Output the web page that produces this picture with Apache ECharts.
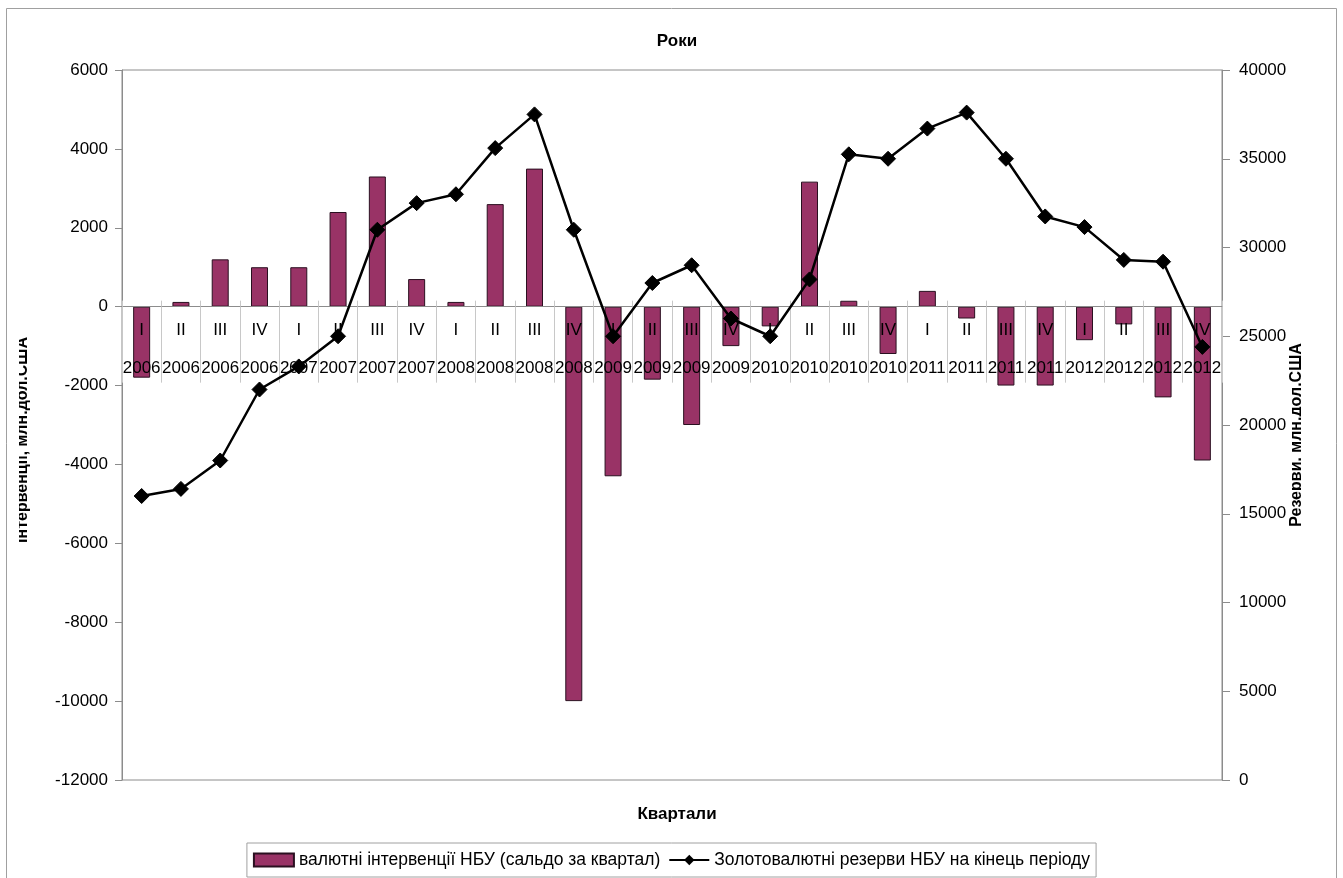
<!DOCTYPE html>
<html>
<head>
<meta charset="utf-8">
<script src="https://cdn.jsdelivr.net/npm/echarts@6/dist/echarts.min.js"></script>
<style>
  html, body { margin: 0; padding: 0; background: #fff; }
  #chart { width: 1343px; height: 878px; }
</style>
</head>
<body>
<div id="chart"></div>
<script>
// Quarter and year of each period
const quarters = ['I','II','III','IV','I','II','III','IV','I','II','III','IV','I','II','III','IV',
                  'I','II','III','IV','I','II','III','IV','I','II','III','IV'];
const years = ['2006','2006','2006','2006','2007','2007','2007','2007','2008','2008','2008','2008',
               '2009','2009','2009','2009','2010','2010','2010','2010','2011','2011','2011','2011',
               '2012','2012','2012','2012'];

// NBU currency interventions, net balance per quarter (mln USD)
const interventions = [-1800, 120, 1200, 1000, 1000, 2400, 3300, 700, 120, 2600, 3500, -10000,
                       -4300, -1850, -3000, -1000, -500, 3170, 150, -1200, 400, -300, -2000, -2000,
                       -850, -450, -2300, -3900];

// NBU gold and foreign currency reserves at period end (mln USD)
const reserves = [16000, 16400, 18000, 22000, 23300, 25000, 31000, 32500, 33000, 35600, 37500, 31000,
                  25000, 28000, 29000, 26000, 25000, 28200, 35250, 35000, 36700, 37600, 35000, 31750,
                  31150, 29300, 29200, 24400];

// Left and right axis tick settings
const leftTicks = { min: -12000, max: 6000, interval: 2000 };
const rightTicks = { min: 0, max: 40000, interval: 5000 };

const categories = quarters.map((q, i) => q + '\n' + years[i]);

const FONT = 'Liberation Sans, Arial, sans-serif';
const GRID_TOP = 70, GRID_BOTTOM_Y = 780;
// the category axis sits on the zero line of the left axis
const zeroY = GRID_TOP + (leftTicks.max / (leftTicks.max - leftTicks.min)) * (GRID_BOTTOM_Y - GRID_TOP);
const axisOffset = zeroY - GRID_BOTTOM_Y;

const chart = echarts.init(document.getElementById('chart'), null, { renderer: 'canvas' });

chart.setOption({
  animation: false,
  backgroundColor: '#ffffff',
  textStyle: { fontFamily: FONT, color: '#000' },
  title: [
    { text: 'Роки', left: 672, top: 28, textAlign: 'center',
      textStyle: { fontFamily: FONT, fontSize: 17, fontWeight: 'bold', color: '#000' } },
    { text: 'Квартали', left: 672, top: 801, textAlign: 'center',
      textStyle: { fontFamily: FONT, fontSize: 17, fontWeight: 'bold', color: '#000' } }
  ],
  grid: {
    left: 122, right: 121, top: GRID_TOP, bottom: 878 - GRID_BOTTOM_Y,
    show: true, borderColor: '#8c8c8c', borderWidth: 1, backgroundColor: 'transparent'
  },
  legend: {
    left: 'center', top: 843,
    padding: [8, 6, 8, 6],
    borderColor: '#a0a0a0', borderWidth: 1,
    itemWidth: 40, itemHeight: 13, itemGap: 8,
    textStyle: { fontFamily: FONT, fontSize: 17.5, color: '#000' },
    data: [
      { name: 'валютні інтервенції НБУ (сальдо за квартал)', icon: 'rect' },
      { name: 'Золотовалютні резерви НБУ на кінець періоду' }
    ]
  },
  xAxis: [
    {
      type: 'category',
      data: categories,
      boundaryGap: true,
      position: 'bottom',
      offset: axisOffset,
      z: 3,
      axisLine: { show: true, onZero: false, lineStyle: { color: '#8c8c8c', width: 1 } },
      axisTick: { show: true, interval: 0, length: 76, inside: false, lineStyle: { color: '#c8c8c8', width: 1 } },
      axisLabel: {
        interval: 0, margin: 6, hideOverlap: false,
        formatter: function (v) {
          const p = v.split('\n');
          return '{q|' + p[0] + '}\n{y|' + p[1] + '}';
        },
        rich: {
          q: { fontFamily: FONT, fontSize: 17, lineHeight: 36, color: '#000' },
          y: { fontFamily: FONT, fontSize: 17, lineHeight: 40, color: '#000' }
        }
      },
      splitLine: { show: false }
    },
    {
      // short tick marks crossing the zero line upward
      type: 'category',
      data: categories,
      boundaryGap: true,
      position: 'bottom',
      offset: axisOffset,
      z: 3,
      axisLine: { show: false, onZero: false },
      axisTick: { show: true, interval: 0, length: 6, inside: true, lineStyle: { color: '#c8c8c8', width: 1 } },
      axisLabel: { show: false },
      splitLine: { show: false }
    }
  ],
  yAxis: [
    {
      type: 'value', position: 'left',
      min: leftTicks.min, max: leftTicks.max, interval: leftTicks.interval,
      axisLine: { show: true, lineStyle: { color: '#8c8c8c' } },
      axisTick: { show: true, length: 7, lineStyle: { color: '#8c8c8c' } },
      axisLabel: { margin: 14, fontFamily: FONT, fontSize: 17, color: '#000',
                   formatter: v => String(v) },
      splitLine: { show: false }
    },
    {
      type: 'value', position: 'right',
      min: rightTicks.min, max: rightTicks.max, interval: rightTicks.interval,
      axisLine: { show: true, lineStyle: { color: '#8c8c8c' } },
      axisTick: { show: true, length: 8, lineStyle: { color: '#8c8c8c' } },
      axisLabel: { margin: 17, fontFamily: FONT, fontSize: 17, color: '#000',
                   formatter: v => String(v) },
      splitLine: { show: false }
    }
  ],
  series: [
    {
      name: 'валютні інтервенції НБУ (сальдо за квартал)',
      type: 'bar',
      xAxisIndex: 0,
      yAxisIndex: 0,
      data: interventions,
      barWidth: 17,
      z: 2,
      itemStyle: { color: '#993366', borderColor: '#2a1020', borderWidth: 1 }
    },
    {
      name: 'Золотовалютні резерви НБУ на кінець періоду',
      type: 'line',
      xAxisIndex: 0,
      yAxisIndex: 1,
      data: reserves,
      z: 4,
      symbol: 'diamond',
      symbolSize: 15,
      lineStyle: { color: '#000', width: 2.5 },
      itemStyle: { color: '#000', borderColor: '#000' }
    }
  ],
  graphic: [
    // outer chart frame
    { type: 'rect', shape: { x: 6.5, y: 8.5, width: 1330, height: 900 },
      style: { fill: 'none', stroke: '#a0a0a0', lineWidth: 1 }, z: 0, silent: true },
    // axis titles, partly cut off by the chart area edge
    { type: 'text', x: 22.5, y: 440, rotation: Math.PI / 2,
      style: { text: 'Інтервенції, млн.дол.США', font: 'bold 16px ' + FONT, fill: '#000',
               textAlign: 'center', textVerticalAlign: 'middle' }, z: 1, silent: true },
    { type: 'rect', shape: { x: 8, y: 300, width: 11, height: 300 },
      style: { fill: '#fff' }, z: 20, silent: true },
    { type: 'text', x: 1296.5, y: 435, rotation: Math.PI / 2,
      style: { text: 'Резерви, млн.дол.США', font: 'bold 16px ' + FONT, fill: '#000',
               textAlign: 'center', textVerticalAlign: 'middle' }, z: 1, silent: true },
    { type: 'rect', shape: { x: 1301, y: 300, width: 35, height: 300 },
      style: { fill: '#fff' }, z: 20, silent: true }
  ]
});
</script>
</body>
</html>
